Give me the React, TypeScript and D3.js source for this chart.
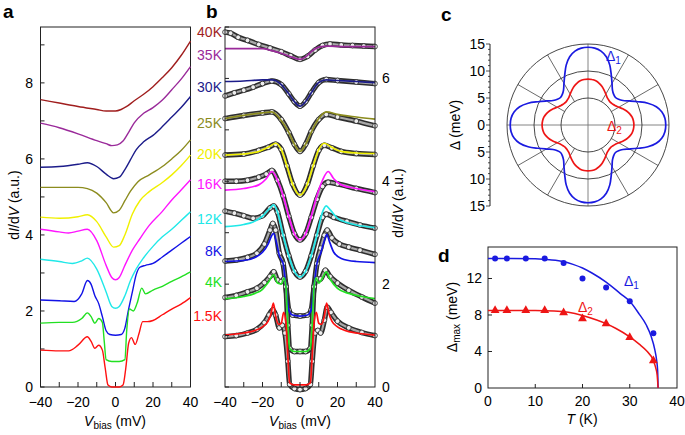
import React from 'react';
import * as d3 from 'd3';

type Pt = [number, number];

// ---------- Panel a: raw dI/dV spectra (V in mV, dI/dV in a.u.) ----------
const tempLabels = ['40K', '35K', '30K', '25K', '20K', '16K', '12K', '8K', '4K', '1.5K'];
const tempColors = ['#a01e1e', '#9a2a9a', '#1c1c8a', '#8c8c1e', '#f0f000', '#ff14ff', '#20e8e8', '#1212e6', '#22e022', '#ff1010'];

const a40K: Pt[] = [[-40, 7.56], [-30, 7.47], [-20, 7.38], [-10, 7.3], [-5, 7.26], [0, 7.26], [3, 7.3], [6, 7.38], [10, 7.53], [15, 7.7], [20, 7.9], [25, 8.14], [30, 8.4], [35, 8.72], [40, 9.1]];
const a35K: Pt[] = [[-40, 6.94], [-30, 6.82], [-20, 6.66], [-10, 6.48], [-5, 6.4], [-2, 6.35], [1, 6.37], [4, 6.47], [7, 6.7], [10, 6.95], [15, 7.2], [20, 7.35], [25, 7.55], [30, 7.82], [35, 8.1], [40, 8.43]];
const a30K: Pt[] = [[-40, 5.78], [-30, 5.8], [-20, 5.86], [-15, 5.9], [-10, 5.8], [-5, 5.6], [-1, 5.48], [2, 5.52], [5, 5.72], [8, 5.98], [11, 6.24], [15, 6.45], [20, 6.62], [25, 6.85], [30, 7.1], [35, 7.35], [40, 7.64]];
const a25K: Pt[] = [[-40, 5.25], [-30, 5.25], [-20, 5.25], [-15, 5.22], [-10, 5.1], [-5, 4.85], [-1, 4.58], [2, 4.65], [5, 4.9], [8, 5.15], [12, 5.4], [18, 5.58], [25, 5.8], [30, 6.0], [35, 6.22], [40, 6.5]];
const a20K: Pt[] = [[-40, 4.47], [-30, 4.44], [-20, 4.48], [-15, 4.53], [-10, 4.35], [-5, 3.95], [-1, 3.68], [2, 3.72], [5, 4.0], [9, 4.55], [13, 4.9], [18, 5.14], [25, 5.38], [30, 5.58], [35, 5.82], [40, 6.1]];
const a16K: Pt[] = [[-40, 4.15], [-30, 4.08], [-25, 4.05], [-20, 4.1], [-15, 4.15], [-10, 3.85], [-5, 3.2], [-2, 2.88], [0, 2.82], [2, 2.88], [5, 3.2], [9, 3.6], [13, 3.9], [18, 4.25], [25, 4.62], [30, 4.92], [35, 5.18], [40, 5.45]];
const a12K: Pt[] = [[-40, 3.36], [-30, 3.3], [-23, 3.25], [-18, 3.32], [-15, 3.39], [-10, 3.1], [-5, 2.5], [-2, 2.12], [0, 2.07], [2, 2.12], [5, 2.4], [8, 2.8], [11, 3.1], [15, 3.4], [20, 3.7], [25, 3.95], [30, 4.15], [35, 4.38], [40, 4.61]];
const a8K: Pt[] = [[-40, 2.29], [-30, 2.27], [-22, 2.25], [-18, 2.45], [-15, 2.8], [-13, 2.7], [-11, 2.4], [-9, 2.2], [-7, 1.85], [-5, 1.48], [-3, 1.38], [0, 1.36], [3, 1.38], [5, 1.55], [7, 2.05], [9, 2.5], [11, 2.95], [13, 3.15], [16, 3.2], [20, 3.25], [25, 3.42], [30, 3.6], [35, 3.78], [40, 3.96]];
const a4K: Pt[] = [[-40, 1.68], [-30, 1.7], [-23, 1.7], [-18, 1.8], [-15, 1.95], [-13, 1.85], [-11, 1.68], [-9, 1.8], [-7, 1.7], [-6, 1.2], [-5, 0.72], [-2, 0.67], [2, 0.67], [5, 0.72], [6, 1.5], [7.5, 2.05], [9.5, 2.0], [11.5, 2.2], [14, 2.6], [16, 2.45], [20, 2.55], [25, 2.65], [30, 2.78], [35, 2.9], [40, 3.03]];
const a1p5K: Pt[] = [[-40, 0.97], [-30, 0.95], [-25, 0.95], [-20, 1.1], [-15, 1.32], [-13, 1.2], [-11, 1.02], [-9, 1.1], [-7, 0.97], [-5.5, 0.5], [-4, 0.05], [-2, 0.0], [2, 0.0], [4, 0.05], [5.5, 0.5], [7, 1.15], [8.5, 1.3], [10.5, 1.12], [12.5, 1.4], [14.5, 1.72], [17, 1.72], [20, 1.75], [25, 1.9], [30, 2.05], [35, 2.18], [40, 2.35]];
const aCurves: Pt[][] = [a40K, a35K, a30K, a25K, a20K, a16K, a12K, a8K, a4K, a1p5K];

// ---------- Panel b: normalized spectra (data) and fits ----------
const b35Kdata: Pt[] = [[-40, 6.9], [-37, 6.88], [-33, 6.8], [-28, 6.74], [-22, 6.66], [-16, 6.59], [-10, 6.52], [-5, 6.44], [0, 6.37], [4, 6.43], [8, 6.55], [12, 6.64], [16, 6.67], [22, 6.65], [28, 6.64], [34, 6.63], [40, 6.62]];
const b30Kdata: Pt[] = [[-40, 5.66], [-35, 5.72], [-30, 5.77], [-25, 5.83], [-20, 5.9], [-15, 5.95], [-10, 5.88], [-6, 5.7], [-3, 5.55], [0, 5.46], [3, 5.55], [6, 5.72], [10, 5.92], [14, 5.98], [20, 5.96], [30, 5.93], [40, 5.9]];
const b25Kdata: Pt[] = [[-40, 5.22], [-30, 5.28], [-20, 5.33], [-15, 5.35], [-10, 5.2], [-6, 4.95], [-3, 4.72], [0, 4.58], [3, 4.72], [6, 4.97], [10, 5.2], [14, 5.3], [20, 5.25], [30, 5.17], [40, 5.08]];
const b20Kdata: Pt[] = [[-40, 4.51], [-30, 4.53], [-22, 4.6], [-17, 4.66], [-13, 4.72], [-10, 4.62], [-7, 4.3], [-4, 3.95], [0, 3.73], [4, 3.95], [7, 4.3], [10, 4.6], [13, 4.7], [17, 4.65], [22, 4.58], [30, 4.54], [40, 4.52]];
const b16Kdata: Pt[] = [[-40, 4.0], [-34, 4.0], [-28, 4.02], [-22, 4.08], [-18, 4.14], [-15, 4.21], [-12, 4.02], [-9, 3.72], [-6, 3.32], [-3, 2.98], [0, 2.86], [3, 2.98], [6, 3.3], [9, 3.65], [12, 3.9], [15, 3.98], [20, 3.95], [30, 3.86], [40, 3.78]];
const b12Kdata: Pt[] = [[-40, 3.42], [-35, 3.38], [-30, 3.33], [-25, 3.28], [-20, 3.33], [-16, 3.48], [-14, 3.52], [-12, 3.4], [-9, 2.95], [-6, 2.55], [-3, 2.25], [0, 2.14], [3, 2.25], [6, 2.55], [9, 2.95], [12, 3.3], [14, 3.36], [18, 3.3], [25, 3.22], [32, 3.15], [40, 3.09]];
const b8Kdata: Pt[] = [[-40, 2.45], [-34, 2.47], [-28, 2.52], [-23, 2.6], [-19, 2.78], [-16, 3.05], [-14.5, 3.18], [-13, 3.05], [-11, 2.6], [-9, 2.4], [-7.5, 1.95], [-6, 1.5], [-4, 1.4], [0, 1.38], [4, 1.4], [6, 1.5], [7.5, 1.95], [9, 2.4], [11, 2.7], [13, 2.95], [14.5, 3.05], [17, 2.9], [21, 2.78], [26, 2.72], [32, 2.66], [40, 2.58]];
const b4Kdata: Pt[] = [[-40, 1.74], [-34, 1.78], [-28, 1.85], [-23, 1.92], [-19, 2.03], [-16, 2.15], [-14, 2.24], [-12, 2.08], [-10, 2.05], [-8.5, 2.1], [-7.5, 1.95], [-6.5, 1.2], [-5.5, 0.75], [-3, 0.69], [0, 0.69], [3, 0.69], [5.5, 0.75], [6.5, 1.2], [7.5, 1.95], [9, 2.1], [11, 2.1], [13.5, 2.27], [16, 2.15], [20, 2.02], [26, 1.88], [33, 1.75], [40, 1.63]];
const b1p5Kdata: Pt[] = [[-40, 0.98], [-34, 1.0], [-28, 1.05], [-23, 1.12], [-19, 1.25], [-16.5, 1.4], [-14.5, 1.5], [-13, 1.4], [-11, 1.15], [-9.5, 1.2], [-8, 1.05], [-6.5, 0.5], [-5.5, 0.05], [-3, -0.03], [0, -0.05], [3, -0.03], [5.5, 0.05], [6.5, 0.5], [8, 1.05], [9.5, 1.1], [11, 1.05], [13, 1.3], [14.5, 1.55], [16.5, 1.45], [20, 1.28], [26, 1.15], [33, 1.06], [40, 1.0]];

const b35Kfit: Pt[] = [[-40, 6.58], [-30, 6.58], [-20, 6.58], [-15, 6.54], [-10, 6.49], [-5, 6.42], [0, 6.37], [3, 6.42], [6, 6.52], [10, 6.61], [15, 6.63], [25, 6.62], [40, 6.62]];
const b30Kfit: Pt[] = [[-40, 5.94], [-30, 5.95], [-20, 5.97], [-15, 5.97], [-10, 5.88], [-6, 5.7], [-3, 5.55], [0, 5.46], [3, 5.55], [6, 5.72], [10, 5.92], [14, 5.97], [20, 5.96], [30, 5.94], [40, 5.92]];
const b25Kfit: Pt[] = [[-40, 5.22], [-30, 5.28], [-20, 5.33], [-15, 5.35], [-10, 5.18], [-6, 4.95], [-3, 4.72], [0, 4.58], [3, 4.72], [6, 4.95], [10, 5.22], [14, 5.35], [20, 5.3], [30, 5.25], [40, 5.21]];
const b20Kfit: Pt[] = [[-40, 4.51], [-30, 4.53], [-22, 4.58], [-17, 4.66], [-13, 4.74], [-10, 4.62], [-7, 4.3], [-4, 3.95], [0, 3.73], [4, 3.95], [7, 4.3], [10, 4.62], [13, 4.74], [17, 4.66], [22, 4.58], [30, 4.55], [40, 4.54]];
const b16Kfit: Pt[] = [[-40, 3.83], [-30, 3.86], [-22, 3.93], [-18, 4.05], [-15, 4.19], [-12, 4.02], [-9, 3.72], [-6, 3.32], [-3, 2.98], [0, 2.86], [3, 2.98], [6, 3.32], [9, 3.72], [12, 4.02], [15, 4.19], [18, 4.05], [22, 3.93], [30, 3.86], [40, 3.8]];
const b12Kfit: Pt[] = [[-40, 3.12], [-30, 3.16], [-25, 3.21], [-20, 3.32], [-16, 3.48], [-14, 3.54], [-12, 3.4], [-9, 2.95], [-6, 2.55], [-3, 2.25], [0, 2.14], [3, 2.25], [6, 2.55], [9, 2.95], [12, 3.4], [14, 3.52], [16, 3.45], [20, 3.28], [25, 3.2], [30, 3.15], [40, 3.1]];
const b8Kfit: Pt[] = [[-40, 2.44], [-30, 2.46], [-24, 2.52], [-20, 2.62], [-17, 2.78], [-15, 2.95], [-14, 2.99], [-12.5, 2.8], [-11, 2.55], [-9, 2.4], [-7.5, 1.95], [-6, 1.5], [-4, 1.4], [0, 1.38], [4, 1.4], [6, 1.5], [7.5, 1.95], [9, 2.4], [11, 2.6], [13, 2.85], [14.3, 2.97], [15.5, 2.85], [18, 2.62], [22, 2.5], [30, 2.44], [40, 2.42]];
const b4Kfit: Pt[] = [[-40, 1.72], [-30, 1.76], [-24, 1.82], [-20, 1.9], [-17, 2.03], [-14, 2.18], [-12, 2.02], [-10, 2.0], [-8.5, 2.12], [-7.5, 1.95], [-6.5, 1.2], [-5.5, 0.75], [-3, 0.69], [0, 0.69], [3, 0.69], [5.5, 0.75], [6.5, 1.2], [7.5, 1.95], [8.5, 2.12], [10, 2.02], [12, 2.12], [14, 2.24], [16, 2.1], [20, 1.92], [26, 1.82], [33, 1.76], [40, 1.72]];
const b1p5Kfit: Pt[] = [[-40, 1.01], [-30, 1.05], [-24, 1.1], [-20, 1.17], [-17, 1.28], [-15.5, 1.42], [-14.2, 1.63], [-13, 1.38], [-11.5, 1.22], [-10, 1.24], [-8.7, 1.45], [-7.5, 1.25], [-6.5, 0.6], [-5.5, 0.08], [-3, 0.04], [0, 0.04], [3, 0.04], [5.5, 0.08], [6.5, 0.6], [7.5, 1.25], [8.7, 1.45], [10, 1.24], [11.5, 1.22], [13, 1.38], [14.2, 1.63], [15.5, 1.42], [17, 1.28], [20, 1.17], [24, 1.1], [30, 1.05], [40, 1.01]];

const bData: Pt[][] = [b35Kdata, b30Kdata, b25Kdata, b20Kdata, b16Kdata, b12Kdata, b8Kdata, b4Kdata, b1p5Kdata];
const bFits: Pt[][] = [b35Kfit, b30Kfit, b25Kfit, b20Kfit, b16Kfit, b12Kfit, b8Kfit, b4Kfit, b1p5Kfit];

// ---------- Panel c: gap anisotropy (angle from lobe axis in deg, gap in meV) ----------
const gapAngles = [0, 5, 10, 15, 20, 25, 30, 35, 40, 45];
const gap1 = [14.4, 14.3, 13.9, 13.1, 11.8, 10.2, 8.9, 7.9, 7.4, 7.2];
const gap2 = [8.5, 8.45, 8.3, 8.0, 7.6, 7.1, 6.6, 6.2, 6.0, 5.9];
const polarTicks = [15, 10, 5, 0, 5, 10, 15];

// ---------- Panel d: gap maxima vs T ----------
const tempsK = [1.5, 4, 8, 12, 16, 20, 25, 30, 35];
const delta1Max = [14.2, 14.2, 14.2, 14.2, 13.7, 12.0, 11.0, 9.5, 6.0];
const delta2Max = [8.5, 8.5, 8.5, 8.5, 8.25, 7.6, 7.05, 5.55, 3.0];
const delta1Fit: Pt[] = [[0, 14.2], [5, 14.2], [10, 14.15], [13, 14.05], [16, 13.85], [18, 13.55], [20, 13.15], [22, 12.6], [25, 11.6], [28, 10.35], [30, 9.5], [32, 8.1], [33.5, 6.9], [34.5, 5.7], [35.3, 4.2], [35.7, 3.0], [35.9, 1.9], [36, 0]];
const delta2Fit: Pt[] = [[0, 8.5], [10, 8.5], [14, 8.45], [17, 8.3], [20, 7.95], [23, 7.45], [25, 7.05], [27, 6.55], [30, 5.6], [32, 4.8], [33.5, 4.1], [35, 3.0], [35.5, 2.2], [35.8, 1.4], [36, 0]];

const FONT = "'Liberation Sans', Arial, Helvetica, sans-serif";

function DIdV({ x, y, rot }: { x: number; y: number; rot: number }) {
  return (
    <text x={x} y={y} transform={`rotate(${rot},${x},${y})`} textAnchor="middle" fontSize={14} dy="0.35em">
      d<tspan fontStyle="italic">I</tspan>/d<tspan fontStyle="italic">V</tspan> (a.u.)
    </text>
  );
}

function VBias({ x, y }: { x: number; y: number }) {
  return (
    <text x={x} y={y} textAnchor="middle" fontSize={14}>
      <tspan fontStyle="italic">V</tspan>
      <tspan fontSize={10} dy={3}>bias</tspan>
      <tspan dy={-3}> (mV)</tspan>
    </text>
  );
}

export default function App() {
  const xa = d3.scaleLinear().domain([-40, 40]).range([40.5, 190.5]);
  const ya = d3.scaleLinear().domain([0, 9.47]).range([387, 27]);
  const xb = d3.scaleLinear().domain([-40, 40]).range([225, 375]);
  const yb = d3.scaleLinear().domain([0, 7]).range([387, 27]);
  const xd = d3.scaleLinear().domain([0, 40]).range([488, 677]);
  const yd = d3.scaleLinear().domain([0, 15.45]).range([388, 247]);
  const rc = d3.scaleLinear().domain([0, 15]).range([0, 81]);
  const cx = 588, cy = 125;

  const lineA = d3.line<Pt>().x(d => xa(d[0])).y(d => ya(d[1])).curve(d3.curveMonotoneX);
  const lineB = d3.line<Pt>().x(d => xb(d[0])).y(d => yb(d[1])).curve(d3.curveMonotoneX);
  const lineD = d3.line<Pt>().x(d => xd(d[0])).y(d => yd(d[1])).curve(d3.curveMonotoneX);

  const polarPts = (vals: number[]): Pt[] => {
    const pts: Pt[] = [];
    for (let deg = 0; deg < 360; deg += 5) {
      const m = deg % 90;
      const idx = gapAngles.indexOf(m <= 45 ? m : 90 - m);
      pts.push([(deg * Math.PI) / 180, rc(vals[idx])]);
    }
    return pts;
  };
  const radial = d3.lineRadial<Pt>().angle(d => d[0]).radius(d => d[1]).curve(d3.curveCatmullRomClosed);

  const labelY = [32, 55, 87, 123, 154, 184, 219, 251, 282, 316];
  const tri = d3.symbol().type(d3.symbolTriangle).size(34)() as string;

  return (
    <svg width={685} height={435} style={{ position: 'absolute', left: 0, top: 0, background: '#fff' }} fontFamily={FONT}>
      {/* ---------- panel a ---------- */}
      <text x={3} y={18} fontSize={19} fontWeight="bold">a</text>
      <rect x={40.5} y={27} width={150} height={360} fill="none" stroke="#222" strokeWidth={1} />
      {d3.range(0, 10).map(v => (
        <line key={'ay' + v} x1={40.5} x2={44.5} y1={ya(v)} y2={ya(v)} stroke="#222" />
      ))}
      {d3.range(-30, 40, 10).map(v => (
        <line key={'ax' + v} x1={xa(v)} x2={xa(v)} y1={387} y2={382} stroke="#222" />
      ))}
      {[0, 2, 4, 6, 8].map(v => (
        <text key={'ayl' + v} x={33} y={ya(v)} dy="0.35em" textAnchor="end" fontSize={14}>{v}</text>
      ))}
      {[-40, -20, 0, 20, 40].map(v => (
        <text key={'axl' + v} x={xa(v)} y={407} textAnchor="middle" fontSize={14}>{v < 0 ? '\u2212' + Math.abs(v) : v}</text>
      ))}
      {aCurves.map((c, i) => (
        <path key={'ac' + i} d={lineA(c) as string} fill="none" stroke={tempColors[i]} strokeWidth={1.4} />
      ))}
      <DIdV x={14} y={205} rot={-90} />
      <VBias x={115} y={426} />

      {/* temperature labels */}
      {tempLabels.map((t, i) => (
        <text key={'tl' + i} x={222} y={labelY[i]} dy="0.35em" textAnchor="end" fontSize={14} fill={tempColors[i]}>{t}</text>
      ))}

      {/* ---------- panel b ---------- */}
      <text x={206} y={18} fontSize={19} fontWeight="bold">b</text>
      {bData.map((c, i) => (
        <g key={'bd' + i}>
          <path d={lineB(c) as string} fill="none" stroke="#2e2e2e" strokeWidth={5.4} />
          <path d={lineB(c) as string} fill="none" stroke="#a8a8a8" strokeWidth={2.2} />
          {c.map((p, j) => (
            <circle key={j} cx={xb(p[0])} cy={yb(p[1])} r={2.4} fill="#eee" stroke="#2a2a2a" strokeWidth={0.8} />
          ))}
        </g>
      ))}
      {bFits.map((c, i) => (
        <path key={'bf' + i} d={lineB(c) as string} fill="none" stroke={tempColors[i + 1]} strokeWidth={1.7} />
      ))}
      <rect x={225} y={27} width={150} height={360} fill="none" stroke="#222" strokeWidth={1} />
      {d3.range(0, 8).map(v => (
        <line key={'by' + v} x1={225} x2={229} y1={yb(v)} y2={yb(v)} stroke="#222" />
      ))}
      {d3.range(-30, 40, 10).map(v => (
        <line key={'bx' + v} x1={xb(v)} x2={xb(v)} y1={387} y2={382} stroke="#222" />
      ))}
      {[0, 2, 4, 6].map(v => (
        <text key={'byl' + v} x={382} y={yb(v)} dy="0.35em" textAnchor="start" fontSize={14}>{v}</text>
      ))}
      {[-40, -20, 0, 20, 40].map(v => (
        <text key={'bxl' + v} x={xb(v)} y={407} textAnchor="middle" fontSize={14}>{v < 0 ? '\u2212' + Math.abs(v) : v}</text>
      ))}
      <DIdV x={398} y={203} rot={-90} />
      <VBias x={300} y={426} />

      {/* ---------- panel c ---------- */}
      <text x={441} y={21} fontSize={19} fontWeight="bold">c</text>
      <g transform={`translate(${cx},${cy})`}>
        {[30, 60, 120, 150, 210, 240, 300, 330].map(a => {
          const t = (a * Math.PI) / 180;
          return (
            <line key={'sp' + a} x1={rc(5) * Math.cos(t)} y1={-rc(5) * Math.sin(t)} x2={rc(15) * Math.cos(t)} y2={-rc(15) * Math.sin(t)} stroke="#444" strokeWidth={0.8} />
          );
        })}
        <line x1={-rc(15)} x2={rc(15)} y1={0} y2={0} stroke="#777" strokeWidth={0.9} />
        <line y1={-rc(15)} y2={rc(15)} x1={0} x2={0} stroke="#777" strokeWidth={0.9} />
        {[5, 10, 15].map(r => (
          <circle key={'pc' + r} r={rc(r)} fill="none" stroke="#333" strokeWidth={0.9} />
        ))}
        <path d={radial(polarPts(gap1)) as string} fill="none" stroke="#1a1ae0" strokeWidth={1.7} />
        <path d={radial(polarPts(gap2)) as string} fill="none" stroke="#ee1515" strokeWidth={1.7} />
      </g>
      <line x1={490} x2={490} y1={cy - rc(15)} y2={cy + rc(15)} stroke="#222" />
      {d3.range(-15, 16).map(v => (
        <line key={'cmt' + v} x1={490} x2={v % 5 === 0 ? 486 : 488} y1={cy - rc(v)} y2={cy - rc(v)} stroke="#222" strokeWidth={0.8} />
      ))}
      {polarTicks.map((t, i) => (
        <text key={'ctl' + i} x={485} y={cy - rc(15) + i * rc(5)} dy="0.35em" textAnchor="end" fontSize={14}>{t}</text>
      ))}
      <text x={455} y={cy} transform={`rotate(-90,455,${cy})`} textAnchor="middle" dy="0.35em" fontSize={14}>Δ (meV)</text>
      <text x={606} y={61} fontSize={14} fill="#1a1ae0">Δ<tspan fontSize={10} dy={3}>1</tspan></text>
      <text x={607} y={131} fontSize={14} fill="#ee1515">Δ<tspan fontSize={10} dy={3}>2</tspan></text>

      {/* ---------- panel d ---------- */}
      <text x={438} y={262} fontSize={19} fontWeight="bold">d</text>
      <rect x={488} y={247} width={189} height={141} fill="none" stroke="#222" strokeWidth={1} />
      {[4, 8, 12].map(v => (
        <line key={'dy' + v} x1={488} x2={492} y1={yd(v)} y2={yd(v)} stroke="#222" />
      ))}
      {[10, 20, 30].map(v => (
        <line key={'dx' + v} x1={xd(v)} x2={xd(v)} y1={388} y2={384} stroke="#222" />
      ))}
      {[0, 4, 8, 12].map(v => (
        <text key={'dyl' + v} x={482} y={yd(v)} dy="0.35em" textAnchor="end" fontSize={14}>{v}</text>
      ))}
      {[0, 10, 20, 30, 40].map(v => (
        <text key={'dxl' + v} x={xd(v)} y={406} textAnchor="middle" fontSize={14}>{v}</text>
      ))}
      <path d={lineD(delta1Fit) as string} fill="none" stroke="#1a1ae0" strokeWidth={1.5} />
      <path d={lineD(delta2Fit) as string} fill="none" stroke="#ee1515" strokeWidth={1.5} />
      {tempsK.map((t, i) => (
        <circle key={'d1' + i} cx={xd(t)} cy={yd(delta1Max[i])} r={3} fill="#1a1ae0" />
      ))}
      {tempsK.map((t, i) => (
        <path key={'d2' + i} d={tri} transform={`translate(${xd(t)},${yd(delta2Max[i])})`} fill="#ee1515" />
      ))}
      <text x={624} y={286} fontSize={14} fill="#1a1ae0">Δ<tspan fontSize={10} dy={3}>1</tspan></text>
      <text x={578} y={312} fontSize={14} fill="#ee1515">Δ<tspan fontSize={10} dy={3}>2</tspan></text>
      <text x={452} y={317} transform="rotate(-90,452,317)" textAnchor="middle" dy="0.35em" fontSize={14}>
        Δ<tspan fontSize={10} dy={3}>max</tspan><tspan dy={-3}> (meV)</tspan>
      </text>
      <text x={582} y={424} textAnchor="middle" fontSize={14}>
        <tspan fontStyle="italic">T</tspan> (K)
      </text>
    </svg>
  );
}
